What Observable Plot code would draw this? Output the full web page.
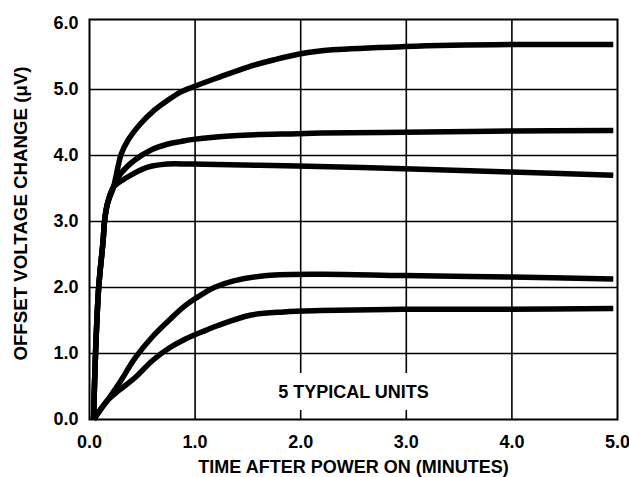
<!DOCTYPE html>
<html>
<head>
<meta charset="utf-8">
<script src="https://cdn.jsdelivr.net/npm/d3@7"></script>
<script src="https://cdn.jsdelivr.net/npm/@observablehq/plot@0.6"></script>
<style>
  html, body { margin: 0; padding: 0; background: #fff; }
</style>
</head>
<body>
<div id="chart"></div>
<script>
// Shared steep rise of the three upper units (minutes, µV)
const riseTime   = [0.038, 0.057, 0.087, 0.129, 0.142, 0.17, 0.227];
const riseOffset = [0, 1.0, 2.0, 2.71, 3.0, 3.27, 3.52];

const unitATime   = [0.30, 0.36, 0.483, 0.609, 0.735, 0.862, 0.966, 1.2, 1.5, 1.75, 2.0, 2.3, 2.98, 3.99, 4.96];
const unitAOffset = [4.02, 4.22, 4.48, 4.68, 4.83, 4.96, 5.03, 5.17, 5.34, 5.45, 5.54, 5.60, 5.65, 5.68, 5.68];

const unitBTime   = [0.294, 0.42, 0.578, 0.735, 0.862, 0.966, 1.366, 1.967, 2.19, 2.98, 3.99, 4.96];
const unitBOffset = [3.72, 3.92, 4.08, 4.17, 4.21, 4.24, 4.30, 4.33, 4.34, 4.35, 4.37, 4.38];

const unitCTime   = [0.357, 0.546, 0.735, 0.966, 1.967, 2.98, 3.99, 4.96];
const unitCOffset = [3.67, 3.82, 3.87, 3.87, 3.84, 3.80, 3.75, 3.70];

// Shared start of the two lower units
const startTime   = [0.04, 0.104, 0.17];
const startOffset = [0, 0.15, 0.29];

const unitDTime   = [0.278, 0.436, 0.594, 0.751, 0.909, 1.1, 1.18, 1.366, 1.68, 2.19, 2.98, 3.99, 4.96];
const unitDOffset = [0.54, 0.94, 1.25, 1.5, 1.73, 1.93, 2.0, 2.1, 2.18, 2.2, 2.18, 2.16, 2.13];

const unitETime   = [0.278, 0.436, 0.594, 0.751, 0.909, 1.1, 1.21, 1.52, 1.84, 2.19, 2.97, 3.99, 4.96];
const unitEOffset = [0.44, 0.64, 0.89, 1.08, 1.22, 1.35, 1.42, 1.58, 1.63, 1.65, 1.67, 1.67, 1.68];

const xTicks = [0, 1, 2, 3, 4, 5];
const yTicks = [0, 1, 2, 3, 4, 5, 6];
const xGrid = [1, 2, 3, 4];
const yGrid = [1, 2, 3, 4, 5];
const xLabel = "TIME AFTER POWER ON (MINUTES)";
const yLabel = "OFFSET VOLTAGE CHANGE (\u03BCV)";
const noteText = ["5 TYPICAL UNITS"];
const noteTime = [2.5];
const noteOffset = [0.42];

function seg(unit, t1, v1, t2, v2) {
  const out = [];
  t1.forEach((t, i) => out.push({unit, t, v: v1[i]}));
  t2.forEach((t, i) => out.push({unit, t, v: v2[i]}));
  return out;
}
const rows = [
  ...seg("A", riseTime, riseOffset, unitATime, unitAOffset),
  ...seg("B", riseTime, riseOffset, unitBTime, unitBOffset),
  ...seg("C", riseTime, riseOffset, unitCTime, unitCOffset),
  ...seg("D", startTime, startOffset, unitDTime, unitDOffset),
  ...seg("E", startTime, startOffset, unitETime, unitEOffset)
];
const notes = noteText.map((s, i) => ({s, t: noteTime[i], v: noteOffset[i]}));

const font = "'Liberation Sans', Arial, Helvetica, sans-serif";
const chart = Plot.plot({
  width: 629,
  height: 477,
  marginLeft: 89,
  marginRight: 12,
  marginTop: 19,
  marginBottom: 58,
  x: {domain: [0, 5]},
  y: {domain: [0, 6.06]},
  style: {fontFamily: font, fontWeight: "bold", fontSize: "18px", color: "#000", background: "#fff", overflow: "visible"},
  marks: [
    Plot.gridX(xGrid, {stroke: "#000", strokeOpacity: 1, strokeWidth: 1.6}),
    Plot.gridY(yGrid, {stroke: "#000", strokeOpacity: 1, strokeWidth: 1.6}),
    Plot.text(notes, {x: "t", y: "v", text: "s", fill: "#000", stroke: "#fff", strokeWidth: 24, fontSize: 18, fontWeight: "bold"}),
    Plot.frame({stroke: "#000", strokeWidth: 2}),
    Plot.axisX(xTicks, {tickSize: 0, tickPadding: 16, tickFormat: d => d.toFixed(1), label: null, fontSize: 18, fontWeight: "bold"}),
    Plot.axisY(yTicks, {tickSize: 0, tickPadding: 11, tickFormat: d => d.toFixed(1), label: null, fontSize: 18, fontWeight: "bold"}),
    Plot.text([xLabel], {frameAnchor: "bottom", dy: 47.5, lineAnchor: "middle", textAnchor: "middle", text: d => d, fontSize: 18, fontWeight: "bold", fill: "#000"}),
    Plot.text([yLabel], {frameAnchor: "left", dx: -68, dy: -6, rotate: -90, lineAnchor: "middle", textAnchor: "middle", text: d => d, fontSize: 18.7, fontWeight: "bold", fill: "#000"}),
    Plot.line(rows, {x: "t", y: "v", z: "unit", curve: "catmull-rom", stroke: "#000", strokeWidth: 5.5, strokeLinecap: "butt", strokeLinejoin: "round"})
  ]
});
document.getElementById("chart").appendChild(chart);
</script>
</body>
</html>
